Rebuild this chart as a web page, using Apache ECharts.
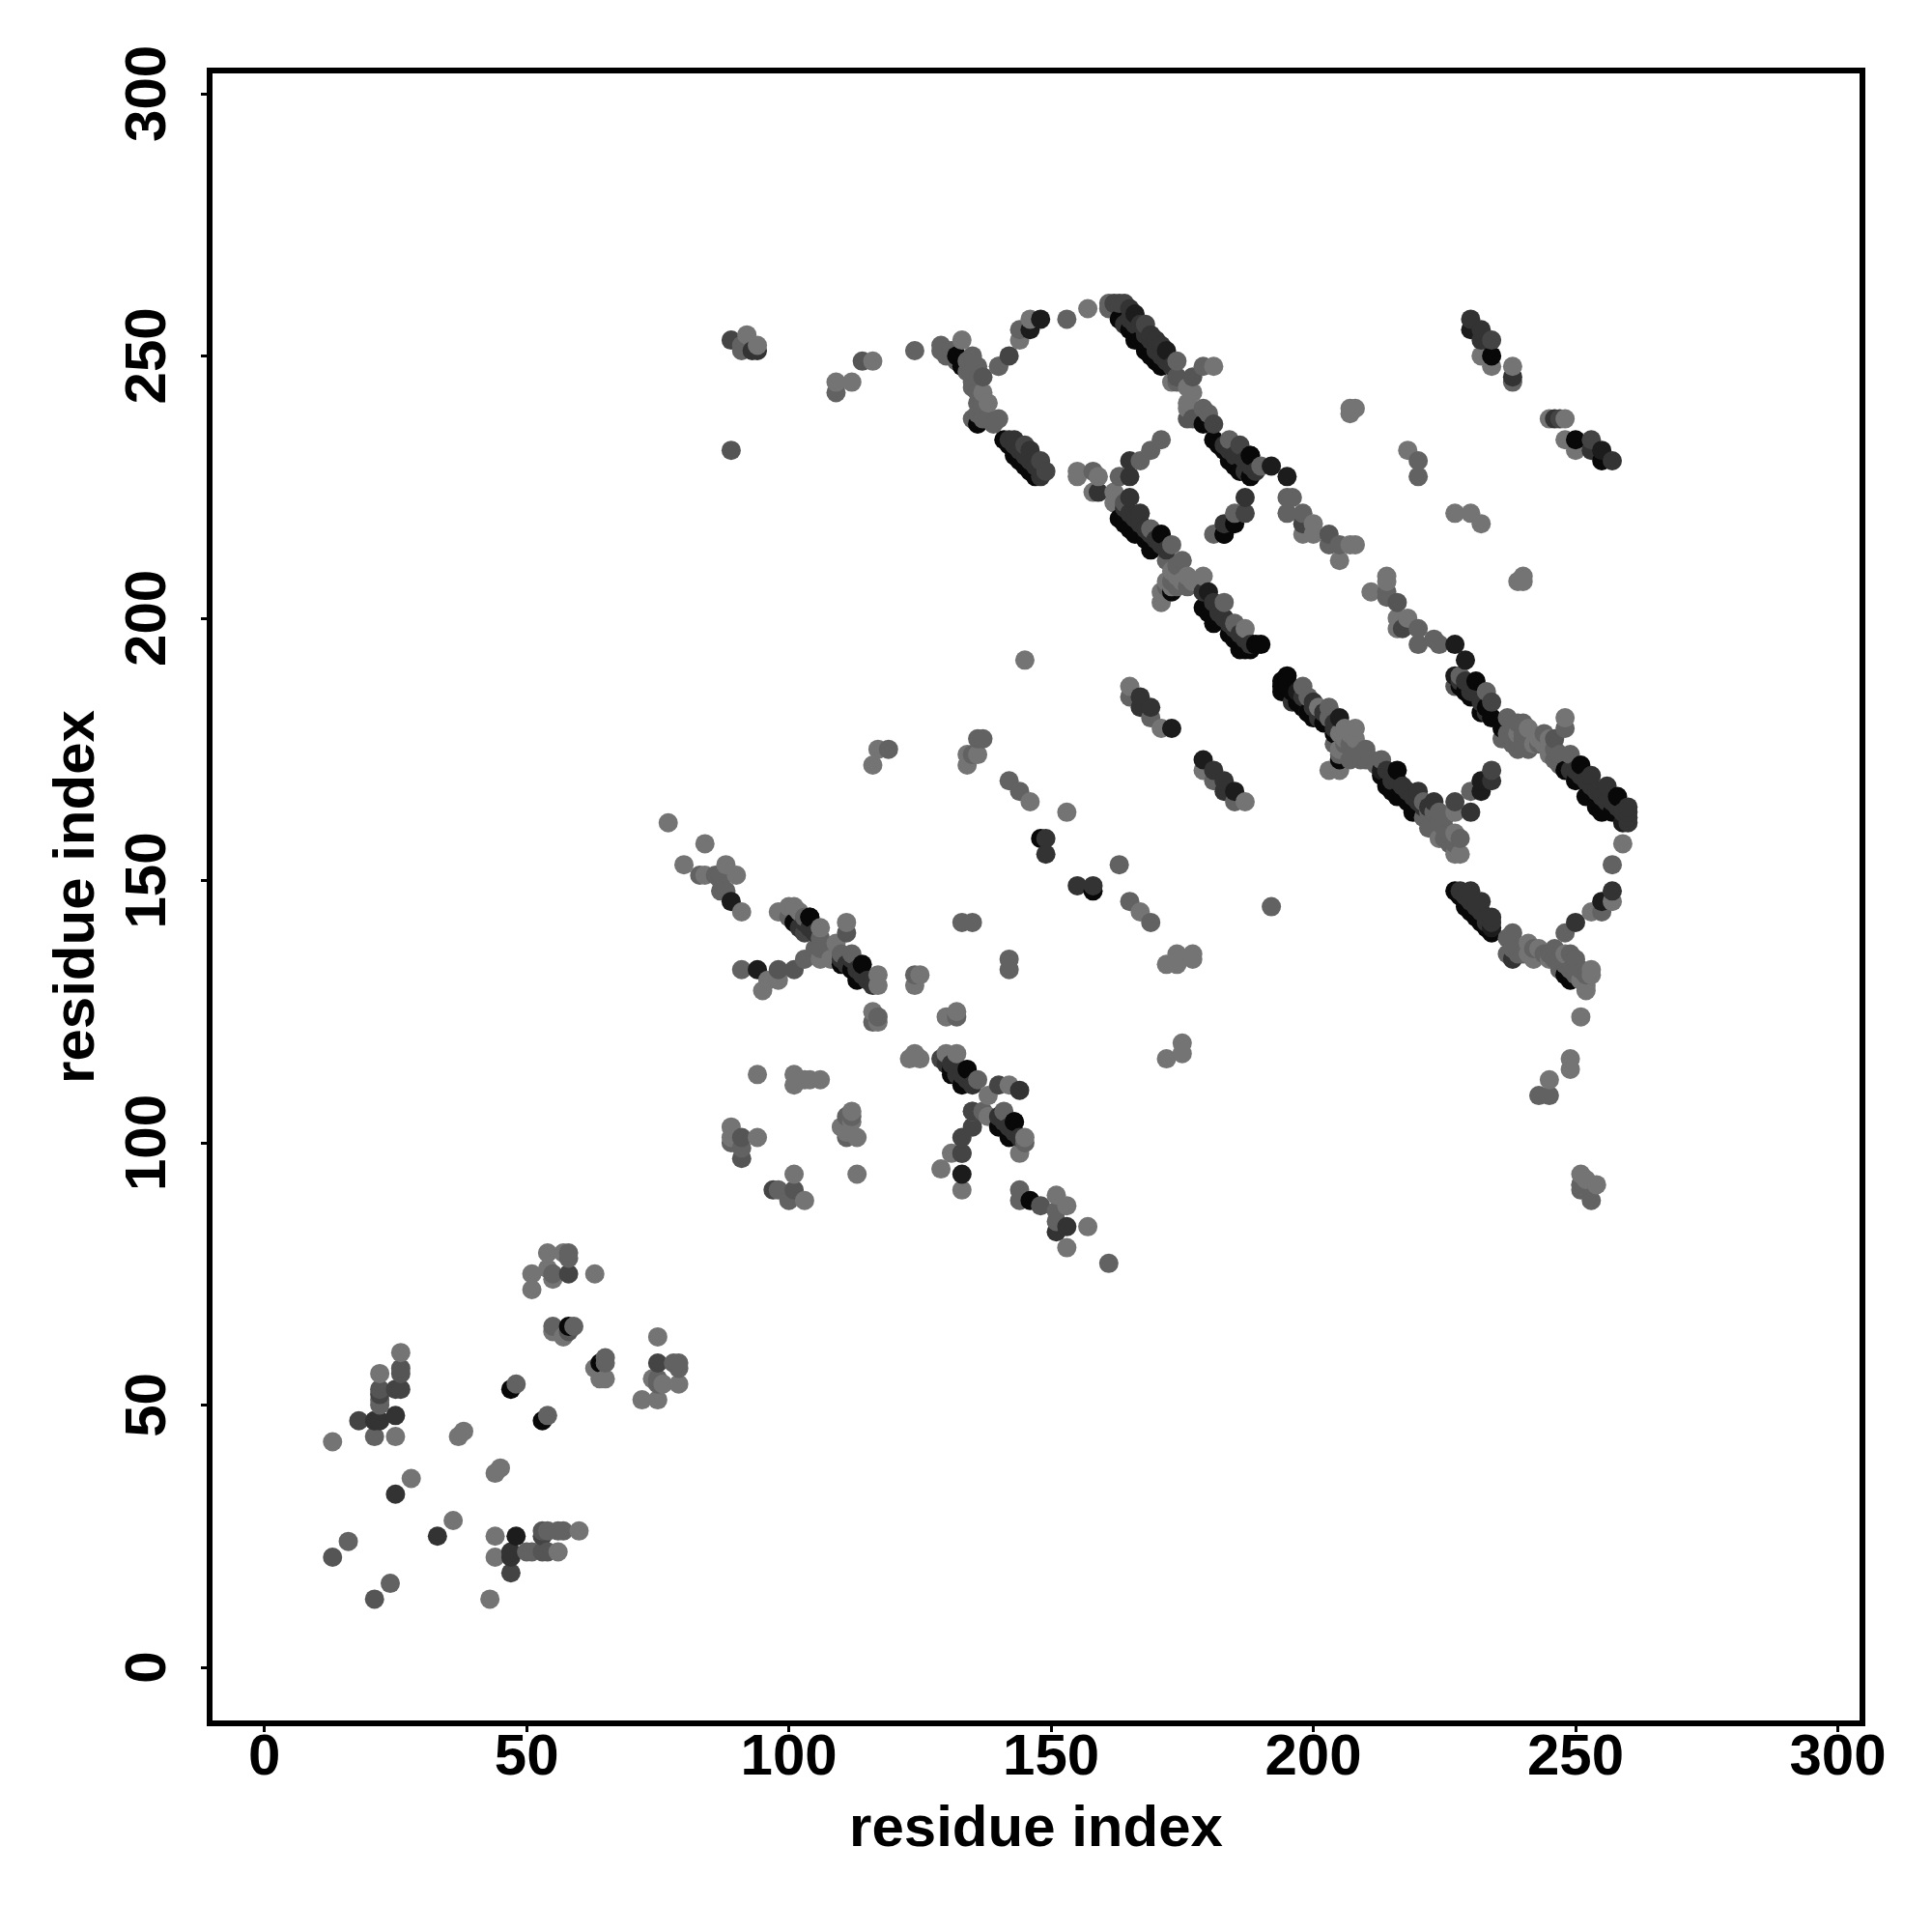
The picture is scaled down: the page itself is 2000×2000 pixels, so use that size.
<!DOCTYPE html>
<html><head><meta charset="utf-8">
<style>html,body{margin:0;padding:0;background:#fff}#c{width:2000px;height:2000px}</style>
<script src="https://cdn.jsdelivr.net/npm/echarts@6/dist/echarts.min.js"></script>
</head><body><div id="c"></div>
<script>
var xTicks=[0,50,100,150,200,250,300];
var yTicks=[0,50,100,150,200,250,300];
var axisTitle="residue index";
var grey116=[[13,43],[25,44],[26,60],[22,56],[28,36],[37,44],[38,45],[44,37],[45,38],[36,28],[43,13],[44,25],[44,21],[56,22],[60,26],[51,75],[51,72],[54,76],[55,74],[63,75],[55,64],[57,63],[75,63],[74,55],[76,54],[79,54],[72,51],[75,51],[63,57],[64,55],[65,55],[54,79],[57,79],
[77,161],[84,157],[80,153],[84,151],[88,153],[90,151],[91,144],[98,144],[100,145],[101,145],[102,144],[106,141],[106,135],[109,138],[108,135],[111,142],[117,132],[117,130],[95,129],[96,131],[98,131],[125,132],[124,130],[116,125],[117,123],[130,124],[132,125],[125,116],[124,117],[123,116],[132,117],[130,117],[138,109],[135,106],[138,105],[142,111],[145,101],[144,98],[131,98],[129,95],[133,91],[94,113],[101,113],[101,111],[103,112],[104,112],[106,112],[112,106],[110,103],[112,104],[111,102],[113,101],[113,94],[89,103],[94,101],[89,101],[101,94],[103,89],[151,90],[153,88],[153,80],[157,84],[153,163],[146,165],
[157,259],[146,257],[144,253],[173,245],[181,248],[177,243],[176,244],[176,241],[176,240],[155,228],[155,227],[159,227],[158,224],[162,224],[162,222],[171,205],[171,203],[173,206],[172,207],[176,208],[179,208],[187,198],[145,192],[165,187],[171,179],[116,172],[117,175],[134,174],[134,172],[136,174],[167,144],[172,134],[174,134],[174,136],[177,136],[177,135],[172,116],[175,119],[175,117],[133,253],[137,243],[138,241],[140,248],[92,254],[94,252],[116,249],[109,245],[112,245],[232,250],[234,248],[238,248],[245,238],[248,238],[248,234],[250,232],
[198,216],[200,218],[200,216],[205,211],[207,214],[208,214],[207,240],[208,240],[207,239],[218,232],[214,208],[214,207],[211,205],[216,200],[218,200],[216,198],[239,207],[240,208],[240,207],[227,220],[230,220],[232,218],[201,183],[206,179],[208,179],[203,171],[205,171],[227,163],[224,158],[227,159],[227,155],[228,155],[259,157],[257,146],[253,144],[241,138],[243,177],[248,181],[245,174],[179,171],[187,165],[243,137],[245,135],[248,136],[253,133],[253,132],[252,130],[252,129],[251,124],[249,116],[249,114],[245,112],[251,94],[251,92],[252,93],[254,92],
[205,178],[206,177],[207,178],[208,177],[206,175],[205,175],[174,208],[175,207],[177,207],[173,209],[244,176],[242,176],[242,135],[241,136],[245,177],[251,131],[239,178],[241,179]];
var grey100=[[21,44],[22,50],[22,51],[16,24],[24,16],[50,22],[51,22],[54,26],[56,26],[57,26],[48,54],[54,48],[58,79],[58,78],[55,75],[55,65],[59,65],[75,55],[75,54],[78,58],[79,58],[79,57],[65,59],[65,58],
[83,151],[86,151],[87,151],[87,150],[87,148],[88,148],[91,133],[100,143],[103,143],[106,139],[106,137],[105,137],[110,136],[112,136],[103,135],[124,132],[116,123],[117,124],[132,124],[136,112],[141,106],[137,106],[145,100],[112,105],[111,105],[111,101],[89,100],[91,99],[98,91],[100,89],[144,91],[144,89],[151,87],[151,85],[161,77],[144,167],[142,169],[163,153],[165,146],[169,142],[133,142],[135,142],[142,135],[142,133],[192,145],
[153,257],[144,255],[140,248],[161,260],[161,259],[174,249],[174,245],[179,248],[179,240],[180,239],[184,234],[190,229],[185,220],[181,216],[158,228],[163,227],[167,230],[169,232],[171,234],[169,217],[173,214],[172,211],[175,211],[183,203],[185,199],[165,185],[169,181],[136,177],[137,177],[119,175],[135,174],[129,251],[129,252],[131,251],[135,250],[136,248],[135,245],[136,241],[135,238],[140,238],[139,237],[91,251],[91,252],[109,243],[124,251],[238,245],
[195,223],[196,223],[195,220],[198,220],[203,214],[205,214],[220,230],[220,227],[214,205],[214,204],[220,198],[220,195],[223,196],[224,195],[198,187],[199,185],[203,183],[203,181],[207,176],[210,175],[207,173],[209,173],[213,173],[221,165],[224,163],[225,162],[221,162],[230,167],[228,158],[257,153],[255,144],[248,140],[238,140],[237,139],[228,189],[233,186],[237,181],[239,180],[240,180],[240,178],[238,177],[240,176],[248,179],[249,174],[181,169],[185,165],[246,137],[250,135],[251,92],[251,91],[253,89],[245,109],[243,109],
[130,250],[131,250],[132,249],[134,249],[134,247],[135,247],[136,246],[135,244],[136,243],[137,241],[137,240],[136,239],[137,238],[138,238],
[204,176],[208,175],[209,174],[210,173],[211,173],[212,172],[206,176],[205,174],
[222,163],[223,163],[224,161],[225,160],[226,159],[225,158],[226,157],[227,157],[222,160],
[173,207],[174,206],[174,210],[176,206],[172,206],
[239,137],[240,136],[242,137],[244,136],[245,136],[246,135],[247,135],[247,133],[248,134],[249,133],[250,132],[251,133],[252,132],[249,136],[250,133],[238,137],[239,136],[237,136],
[241,177],[243,176],[244,178],[246,175],[247,174],[246,173],[247,172],[238,179],[237,178],[236,177],[238,176],[239,175],[240,177],[241,175]];
var grey85=[[21,47],[13,21],[21,13],[53,22],[54,22],[53,26],[22,53],[26,56],[26,57],[58,64],[91,101],[91,97],[98,133],[101,133],[111,140],[133,98],[101,91],[148,88],[89,232],[114,249],[137,246],[176,238],[177,246],[174,246],[216,203],[203,216],[246,177],[227,187],[164,222],[177,238]];
var grey68=[[18,47],[47,18],[25,53],[26,53],[58,75],[75,58],[22,52],[53,25],[97,91],[135,103],[133,101],[133,98],[103,140],[129,116],[140,111],[142,250],[89,253],[181,237],[186,233],[187,220],[145,233],[149,228],[163,260],[164,260],[162,260],[168,256],[135,106],[234,253],[234,184],[234,171],[253,234],[247,238],[198,218],[227,165],[148,230],[217,198]];
var grey51=[[33,25],[25,33],[47,22],[47,21],[25,48],[21,47],[22,47],[153,84],[151,83],[155,149],[149,155],[149,158],[158,149],[170,253],[187,223],[183,218],[165,230],[165,227],[165,223],[167,220],[167,185],[169,183],[181,171],[183,169],[183,167],[146,232],[148,227],[93,251],[94,251],[230,257],[232,255],[232,253],[238,246],[246,238],[253,232],[257,230],[230,148],[232,146],[234,143],[250,142],[257,148],[253,170],[256,168],[260,164],[260,162],[218,167],[220,167],[223,165],[234,169],[230,163],[164,256],[169,254],[171,252],[144,110],[179,205],[143,234],[167,183],[238,135],[159,224],[199,182],
[249,171],[250,171],[251,170],[252,169],[253,168],[254,167],[255,166],[256,165],[257,165],[258,164],[259,163],[260,163],[260,161],
[228,188],[229,188],[230,186],[231,186],[232,184],[233,182],[196,184],[198,185],[200,183],[201,181],[200,184],[202,182],[204,180],[204,179],
[214,171],[215,169],[216,169],[217,168],[219,166],[220,165],[221,164],[222,164],
[181,203],[182,201],[183,200],[184,199],[185,198],[186,197],[187,196],[188,195],
[165,220],[166,219],[167,218],[168,217],[169,216],[170,215],[171,214],[172,213],[164,221],
[183,233],[184,232],[185,231],[186,231],[187,230],[188,229],[189,228],[187,228],
[142,234],[143,233],[144,232],[145,231],[146,230],[147,229],[148,228],
[102,141],[103,142],[104,141],[105,140],[110,135],[111,134],[112,135],[113,133],[114,132],[115,131],[116,130],[116,131],
[130,115],[131,115],[132,113],[133,113],[134,112],[135,111],[140,105],[141,104],[142,103],[143,102],[144,101],
[228,148],[229,147],[230,146],[231,145],[232,144],[233,143],[234,142],[233,142],
[165,257],[167,256],[169,253],[171,250],[172,249],[173,248],[165,259],[166,256],[168,254],[170,251]];
var grey28=[[48,25],[148,257],[146,255],[166,258],[172,251],[192,229],[195,227],[229,192],[227,195],[179,173],[185,167],[173,179],[230,255],[255,232],[94,133],[89,146],[104,143],[143,104],[133,94],[232,169],[232,167],[227,189],[213,171],[205,181],[180,205],[197,186],[188,231],[183,216],[234,141],[255,146],[259,161]];
var grey8=[[47,53],[53,47],[58,65],[64,58],[101,142],[104,143],[110,134],[112,133],[114,134],[113,131],[131,114],[131,113],[133,111],[134,114],[140,103],[142,101],[143,104],[146,89],[148,158],[158,148],[234,250],[250,234],[255,230],[163,257],[165,255],[166,254],[166,253],[167,253],[168,251],[169,250],[170,249],[171,248],[132,250],[133,248],[136,237],[179,237],[181,234],[182,233],[183,232],[184,230],[185,229],[186,228],[188,227],[188,231],[185,218],[183,216],
[141,234],[142,233],[143,231],[144,230],[145,229],[146,228],[147,227],[163,219],[164,218],[165,217],[166,216],[168,215],[169,213],[171,216],[173,205],[179,202],[180,201],[181,199],[184,197],[185,196],[186,194],[187,194],[188,194],[189,195],[190,195],[194,188],[194,187],[194,186],[195,189],[195,188],[195,187],[196,186],[197,184],[198,183],[199,182],[200,181],[202,180],[204,178],[213,170],[214,168],[215,167],[216,171],[216,166],[217,166],[218,165],[219,163],[205,173],[227,148],[228,147],[229,145],[230,144],[231,143],[232,142],[233,141],[234,140],[231,188],[232,182],[233,183],[234,181],[236,179],[248,132],[249,131],[248,171],[250,169],[251,172],[252,166],[254,164],[255,163],[257,163],[258,166],[228,187],[229,186],[230,185]];

var contacts=[];
[[grey116,116],[grey100,98],[grey85,85],[grey68,68],[grey51,51],[grey28,28],[grey8,8]].forEach(function(g){
  g[0].forEach(function(p){contacts.push([p[0],p[1],g[1]]);});
});
contacts.sort(function(a,b){return a[0]-b[0]||a[1]-b[1]||b[2]-a[2];});

var font={fontFamily:'"Liberation Sans"',fontWeight:'bold',fontSize:60,color:'#000'};
function axis(ticks,min,max,gap,margin,rot){
  return {type:'value',min:min,max:max,name:axisTitle,nameLocation:'middle',nameGap:gap,
    nameRotate:rot,nameTextStyle:Object.assign({verticalAlign:'middle',align:'center'},font),
    splitLine:{show:false},axisLine:{show:false,onZero:false},
    axisTick:{show:true,customValues:ticks,length:9,lineStyle:{color:'#000',width:3}},
    axisLabel:Object.assign({show:true,customValues:ticks,margin:margin,rotate:rot,hideOverlap:false,showMinLabel:true,showMaxLabel:true},font)};
}
var chart=echarts.init(document.getElementById('c'),null,{renderer:'canvas',width:2000,height:2000});
chart.setOption({animation:false,backgroundColor:'#fff',
  grid:{show:true,left:217,top:73,width:1711,height:1711,borderColor:'#000',borderWidth:6,backgroundColor:'#fff'},
  xAxis:axis(xTicks,-10.44,304.7,110,6,0),
  yAxis:axis(yTicks,-10.68,304.4,137,33,90),
  series:[{type:'scatter',symbol:'circle',symbolSize:20,data:contacts,
    itemStyle:{opacity:1,color:function(p){var g=p.data[2];return 'rgb('+g+','+g+','+g+')';}}}]
});
</script></body></html>
